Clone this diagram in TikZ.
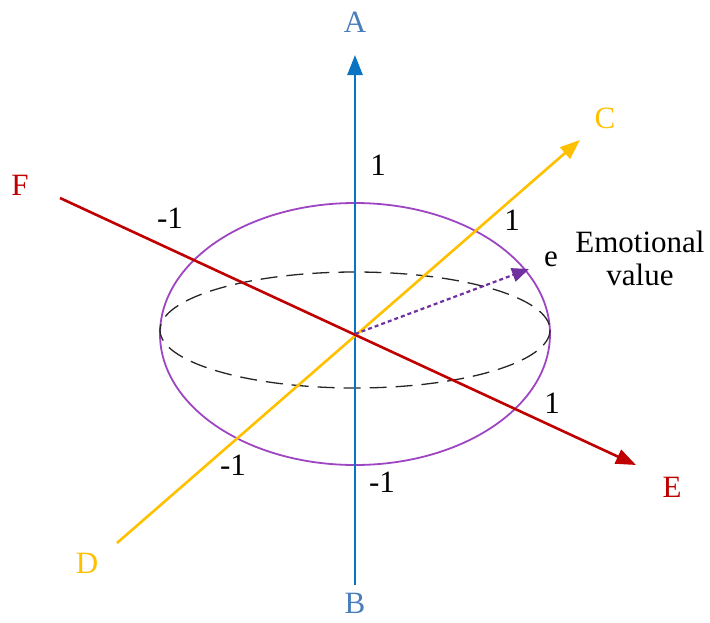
\documentclass[tikz,border=0pt]{standalone}
\usepackage{fontspec}
\setmainfont{Liberation Serif}
\usetikzlibrary{arrows.meta,positioning,calc}
\definecolor{axisblue}{HTML}{0A74C4}
\definecolor{labelblue}{HTML}{4A7EBB}
\definecolor{axisyellow}{HTML}{FFC000}
\definecolor{axisred}{HTML}{C00000}
\definecolor{ringpurple}{HTML}{9E45C2}
\definecolor{valuepurple}{HTML}{7030A0}

\begin{document}
\begin{tikzpicture}[x=1pt,y=-1pt,font=\fontsize{31}{33}\selectfont,
  axis/.style={line width=2.6pt,-{Triangle[length=20pt,width=15pt]}},
  tick/.style={inner sep=0pt}]
  \useasboundingbox (0,0) rectangle (710,622);

  \coordinate (o) at (355,334);
  \coordinate (bot) at (355,585);
  \coordinate (top) at (355,55);
  \coordinate (dend) at (117,543);
  \coordinate (cend) at (580,140);
  \coordinate (fend) at (60,198);
  \coordinate (eend) at (636,465);
  \coordinate (val) at (529,269);

  % ellipses
  \draw[ringpurple,line width=1.8pt] (o) ellipse [x radius=195, y radius=131];
  \draw[black!85,line width=1.3pt,dash pattern=on 17pt off 9pt] (355,330) ellipse [x radius=195, y radius=58];

  % axes
  \draw[axis,axisblue] (bot) -- (top);
  \draw[axis,axisyellow] (dend) -- (cend);
  \draw[axis,axisred] (fend) -- (eend);
  \draw[valuepurple,line width=2.2pt,dash pattern=on 4pt off 3pt,-{Triangle[length=17pt,width=14pt]}] (o) -- (val);

  % axis names
  \node[text=labelblue] (la) at (355,22) {A};
  \node[text=labelblue,anchor=base,inner sep=0pt] (lb) at (355,613) {B};
  \node[text=axisyellow] (lc) at (605,118) {C};
  \node[text=axisyellow] (ld) at (87,563) {D};
  \node[text=axisred] (le) at (672,487) {E};
  \node[text=axisred] (lf) at (20,185) {F};

  % ticks
  \node[tick] (t1) at (378,165) {1};
  \node[tick] (t2) at (170,218) {-1};
  \node[tick] (t3) at (512,220) {1};
  \node[tick] (t4) at (552,403) {1};
  \node[tick] (t5) at (233,465) {-1};
  \node[tick] (t6) at (382,482) {-1};

  \node[tick] (e) at (551,259) {e};
  \node[align=center,inner sep=0pt] (emo) at (640,258) {Emotional\\value};
\end{tikzpicture}
\end{document}
